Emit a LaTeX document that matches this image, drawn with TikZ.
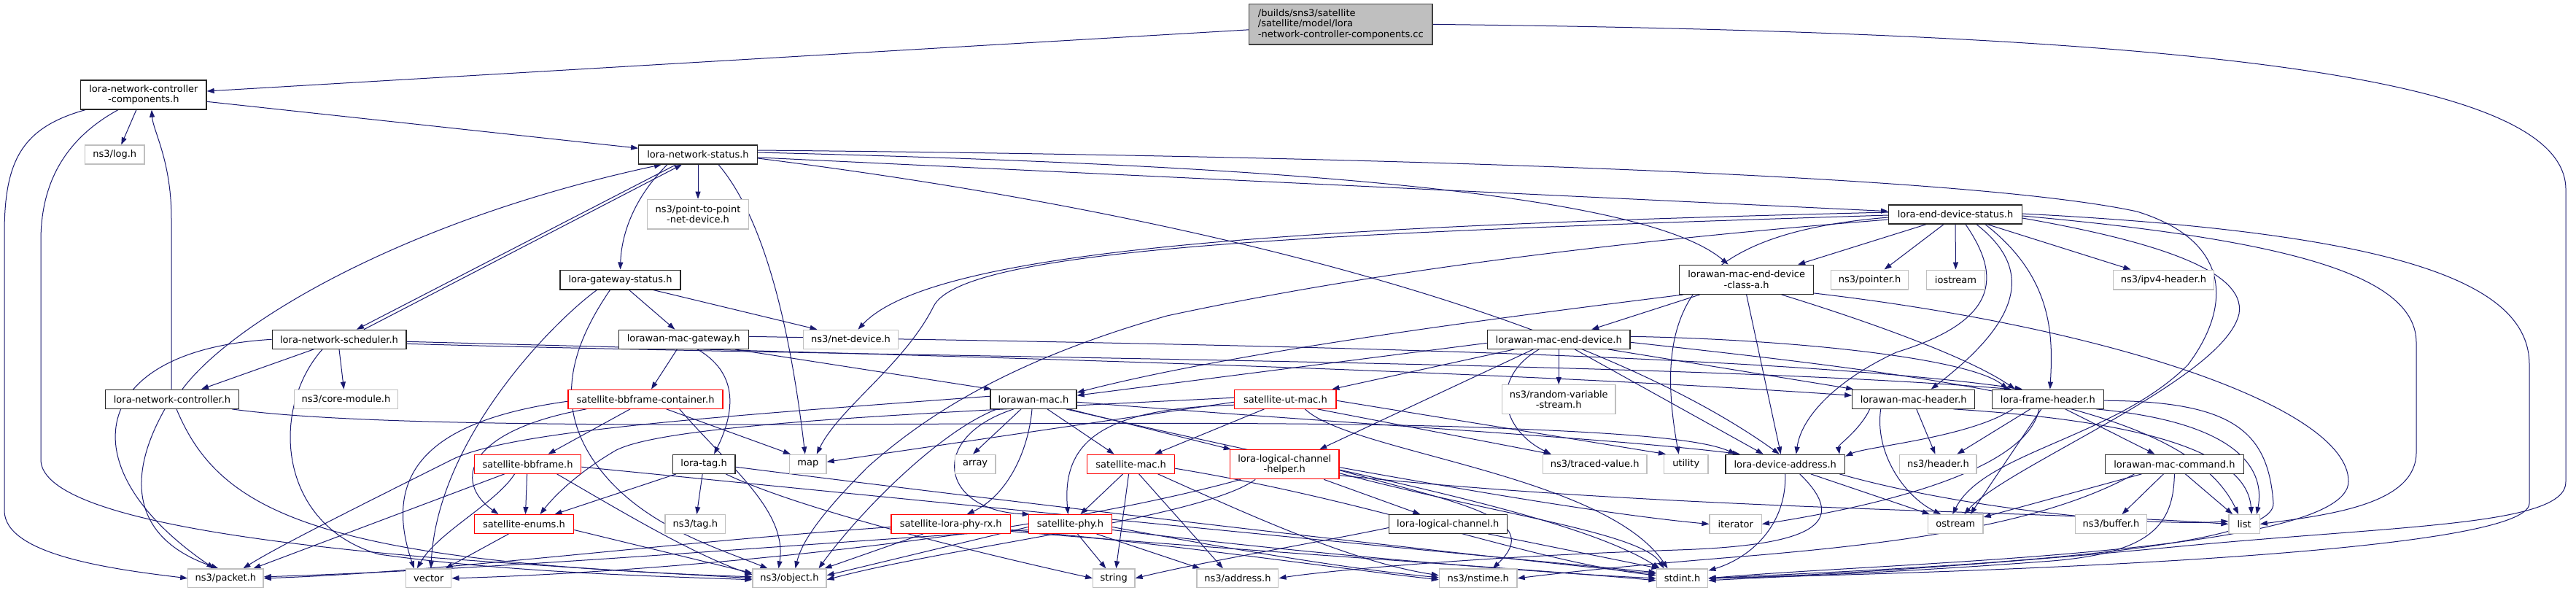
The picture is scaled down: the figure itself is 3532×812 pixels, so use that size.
\documentclass[tikz,border=0pt]{standalone}
\usepackage{fontspec}
\setmainfont{DejaVu Sans}
\usetikzlibrary{arrows.meta}
\pgfdeclarelayer{bg}
\pgfsetlayers{bg,main}
\definecolor{edgec}{HTML}{191970}
\definecolor{grey75}{HTML}{BFBFBF}
\newcommand{\ndfont}{\fontsize{13}{14.5}\selectfont}
\newcommand{\mynode}[7]{\node[#1, minimum width=#5pt, minimum height=#6pt] (#2) at (#3,#4) {#7};}
\tikzset{
 nbox/.style={rectangle, inner sep=0pt, fill=white, align=center, font=\ndfont, line width=1.3pt},
 docbox/.style={nbox, draw=black!85},
 extbox/.style={nbox, draw=grey75},
 trnbox/.style={nbox, draw=red},
 rootbox/.style={nbox, draw=black!75, fill=grey75, align=left},
 conn/.style={draw=edgec, line width=1pt, -{Triangle[length=10pt,width=7pt]}}
}
\begin{document}
\begin{tikzpicture}[x=1pt,y=-1pt]
\useasboundingbox (0,0) rectangle (3532,812);
% ---------------- nodes
\mynode{rootbox}{B}{1838.3}{33.4}{251.4}{55.3}{/builds/sns3/satellite\\/satellite/model/lora\\-network-controller-components.cc}
\mynode{docbox}{lncc}{196.9}{130}{172.2}{40}{lora-network-controller\\-components.h}
\mynode{extbox}{log}{157.3}{212}{81.5}{26}{ns3/log.h}
\mynode{docbox}{lns}{957}{212}{162.5}{26}{lora-network-status.h}
\mynode{extbox}{p2p}{957}{293.7}{139.5}{40.7}{ns3/point-to-point\\-net-device.h}
\mynode{docbox}{lgs}{850.5}{383.5}{165}{26.7}{lora-gateway-status.h}
\mynode{docbox}{leds}{2681}{294}{182.6}{26}{lora-end-device-status.h}
\mynode{docbox}{lmedca}{2394.6}{383.3}{183.6}{40}{lorawan-mac-end-device\\-class-a.h}
\mynode{extbox}{pointer}{2563.6}{383.5}{106}{26.7}{ns3/pointer.h}
\mynode{extbox}{iostream}{2681.5}{383.5}{79.7}{26.7}{iostream}
\mynode{extbox}{ipv4}{2966.5}{383.5}{138.5}{26.7}{ns3/ipv4-header.h}
\mynode{docbox}{lnsch}{465}{465.3}{183.7}{26}{lora-network-scheduler.h}
\mynode{docbox}{lmgw}{937.3}{465.3}{177.8}{26}{lorawan-mac-gateway.h}
\mynode{extbox}{netdev}{1166.5}{465.3}{130.3}{26}{ns3/net-device.h}
\mynode{docbox}{lmed}{2137.2}{465.3}{195.7}{26}{lorawan-mac-end-device.h}
\mynode{docbox}{lnc}{236}{547.2}{182.5}{26}{lora-network-controller.h}
\mynode{extbox}{core}{474.5}{547.2}{141.7}{26}{ns3/core-module.h}
\mynode{trnbox}{sbbc}{885}{547.2}{212}{26}{satellite-bbframe-container.h}
\mynode{docbox}{lmac}{1417}{547.2}{118}{26}{lorawan-mac.h}
\mynode{trnbox}{sutmac}{1762.4}{547.2}{139.3}{26}{satellite-ut-mac.h}
\mynode{extbox}{rvs}{2137.2}{547.5}{155.6}{39.6}{ns3/random-variable\\-stream.h}
\mynode{docbox}{lmh}{2623.7}{547.2}{167.8}{26}{lorawan-mac-header.h}
\mynode{docbox}{lfh}{2807.8}{547.2}{152.8}{26}{lora-frame-header.h}
\mynode{trnbox}{sbb}{723.6}{636.2}{146.4}{26}{satellite-bbframe.h}
\mynode{docbox}{ltag}{965.1}{636.2}{85.6}{26}{lora-tag.h}
\mynode{extbox}{map}{1107.8}{636.2}{50.5}{26}{map}
\mynode{extbox}{array}{1337.1}{636.2}{55.8}{26}{array}
\mynode{trnbox}{smac}{1550.6}{636.2}{120}{26}{satellite-mac.h}
\mynode{trnbox}{llch}{1761.2}{636.7}{149.6}{40}{lora-logical-channel\\-helper.h}
\mynode{extbox}{tv}{2186.6}{636.2}{142.8}{26}{ns3/traced-value.h}
\mynode{extbox}{utility}{2311.7}{636.2}{60.3}{26}{utility}
\mynode{docbox}{lda}{2447.7}{636.2}{163.6}{26}{lora-device-address.h}
\mynode{extbox}{header}{2657.4}{636.2}{105.2}{26}{ns3/header.h}
\mynode{docbox}{lmc}{2981.4}{636.2}{189.6}{26}{lorawan-mac-command.h}
\mynode{trnbox}{senums}{718.5}{718.5}{136.1}{25.6}{satellite-enums.h}
\mynode{extbox}{tag}{953.4}{718.5}{82.7}{25.6}{ns3/tag.h}
\mynode{trnbox}{slprx}{1303.8}{718.5}{163.6}{25.6}{satellite-lora-phy-rx.h}
\mynode{trnbox}{sphy}{1467.4}{718.5}{114.2}{25.6}{satellite-phy.h}
\mynode{docbox}{llc}{1985.3}{718.5}{161.8}{25.6}{lora-logical-channel.h}
\mynode{extbox}{iterator}{2379.7}{718.5}{71.3}{25.6}{iterator}
\mynode{extbox}{ostream}{2681.2}{718.5}{75.6}{25.6}{ostream}
\mynode{extbox}{buffer}{2894.5}{718.5}{98.1}{25.6}{ns3/buffer.h}
\mynode{extbox}{list}{3077.1}{718.5}{42.2}{25.6}{list}
\mynode{extbox}{packet}{309.4}{792.8}{103.3}{25.7}{ns3/packet.h}
\mynode{extbox}{vector}{587.8}{792.8}{62}{25.7}{vector}
\mynode{extbox}{object}{1082.5}{792.8}{101}{25.7}{ns3/object.h}
\mynode{extbox}{string}{1527.3}{792.8}{57.3}{25.7}{string}
\mynode{extbox}{address}{1696.9}{792.8}{111.8}{25.7}{ns3/address.h}
\mynode{extbox}{nstime}{2026.7}{792.8}{106.7}{25.7}{ns3/nstime.h}
\mynode{extbox}{stdint}{2306.5}{792.8}{70.6}{25.7}{stdint.h}
% ---------------- edges
\begin{pgfonlayer}{bg}
\fill[white] (0,0) rectangle (3532,812);
% root
\draw[conn] (B) -- (lncc);
\draw[conn] (B.east) .. controls (3050,45) and (3518,110) .. (3518,260) -- (3518,660) .. controls (3520,720) and (3300,720) .. (3000,748) .. controls (2750,772) and (2500,790) .. (stdint.east);
% lncc
\draw[conn] ([xshift=-10pt]lncc.south) -- ([xshift=9pt]log.north);
\draw[conn] (lncc) -- (lns);
\draw[conn] ([xshift=-80pt]lncc.south) .. controls (30,175) and (6,220) .. (6,320) -- (6,700) .. controls (6,760) and (150,780) .. (packet.west);
\draw[conn] ([xshift=-35pt]lncc.south) .. controls (90,190) and (56,250) .. (56,330) -- (56,630) .. controls (56,700) and (300,740) .. (600,765) .. controls (800,780) and (950,788) .. (object.west);
% lnc
\draw[conn] ([xshift=-1pt]lnc.north) -- (235,300) .. controls (235,220) and (210,180) .. ([xshift=11pt]lncc.south);
\draw[conn] ([xshift=14pt]lnc.north) .. controls (320,440) and (560,300) .. ([xshift=-50pt]lns.south);
\draw[conn] ([xshift=-10pt]lnc.south) .. controls (170,660) and (185,740) .. ([xshift=-10pt]packet.north);
\draw[conn] ([xshift=6pt]lnc.south) .. controls (300,700) and (430,770) .. ([yshift=2pt]object.west);
\draw[conn] ([xshift=-10pt]lnc.south east) .. controls (600,600) and (1500,570) .. (2000,585) .. controls (2200,592) and (2330,600) .. ([xshift=-68pt]lda.north);
% lns
\draw[conn] (lns) -- (p2p);
\draw[conn] ([xshift=-42pt]lns.south) .. controls (870,270) and (852,320) .. (lgs.north);
\draw[conn] ([xshift=-30pt]lns.south) -- ([xshift=24pt]lnsch.north);
\draw[conn] ([xshift=28pt]lns.south) .. controls (1040,290) and (1080,420) .. ([xshift=-4pt]map.north);
\draw[conn] ([yshift=3pt]lns.east) .. controls (1700,225) and (2250,260) .. ([xshift=-25pt]lmedca.north);
\draw[conn] (lns) -- (leds);
\draw[conn] ([yshift=-5pt]lns.east) .. controls (1700,300) and (2200,450) .. ([xshift=-8pt]lda.north);
\draw[conn] ([yshift=6pt]lns.east) .. controls (1900,214) and (2700,240) .. (2930,290) .. controls (3060,330) and (3060,420) .. (3000,500) .. controls (2900,600) and (2720,620) .. ([xshift=-4pt]ostream.north);
% lnsch
\draw[conn] ([xshift=34pt]lnsch.north) -- ([xshift=-22pt]lns.south);
\draw[conn] ([xshift=-35pt]lnsch.south) -- ([xshift=40pt]lnc.north);
\draw[conn] (lnsch.south) -- ([xshift=-3pt]core.north);
\draw[conn] (lnsch.west) .. controls (120,480) and (90,640) .. ([xshift=-16pt]packet.north);
\draw[conn] ([xshift=-23pt]lnsch.south) .. controls (370,560) and (380,720) .. (520,760) .. controls (700,785) and (900,790) .. ([yshift=-2pt]object.west);
\draw[conn] ([yshift=-3pt]lnsch.east) .. controls (1200,485) and (2000,505) .. ([yshift=5pt]lmh.west);
\draw[conn] ([yshift=-6pt]lnsch.east) .. controls (1200,490) and (2300,495) .. ([xshift=-50pt]lfh.north);
% lgs
\draw[conn] ([xshift=12pt]lgs.south) -- ([xshift=-12pt]lmgw.north);
\draw[conn] ([xshift=45pt]lgs.south) -- ([xshift=-46pt]netdev.north);
\draw[conn] ([xshift=-32pt]lgs.south) .. controls (760,440) and (600,600) .. ([xshift=3pt]vector.north);
\draw[conn] ([xshift=-14pt]lgs.south) .. controls (780,480) and (760,560) .. (820,640) .. controls (880,720) and (980,750) .. ([xshift=-30pt]object.north);
% lmgw
\draw[conn] ([xshift=-9pt]lmgw.south) -- ([xshift=8pt]sbbc.north);
\draw[conn] ([xshift=19pt]lmgw.south) .. controls (1010,510) and (1010,560) .. ([xshift=14pt]ltag.north);
\draw[conn] ([xshift=-19pt]lmgw.south east) -- ([xshift=2pt]lmac.north west);
\draw[conn] ([yshift=4pt]lmgw.east) .. controls (1500,470) and (2400,480) .. ([xshift=-35pt]lfh.north);
% leds
\draw[conn] ([xshift=-40pt]leds.south) -- ([xshift=-22pt]lmedca.north east);
\draw[conn] ([xshift=-16pt]leds.south) -- ([xshift=20pt]pointer.north);
\draw[conn] (leds) -- (iostream);
\draw[conn] ([xshift=44pt]leds.south) -- ([xshift=-45pt]ipv4.north);
\draw[conn] ([xshift=29pt]leds.south) .. controls (2790,370) and (2770,440) .. ([xshift=24pt]lmh.north);
\draw[conn] ([xshift=41pt]leds.south) .. controls (2815,380) and (2815,460) .. ([xshift=3pt]lfh.north);
\draw[conn] ([xshift=14pt]leds.south) .. controls (2745,380) and (2740,440) .. (2600,483) .. controls (2520,520) and (2470,570) .. ([xshift=15pt]lda.north);
\draw[conn] ([yshift=-5pt]leds.east) .. controls (2950,330) and (3080,370) .. (3070,430) .. controls (3050,520) and (2750,640) .. ([xshift=12pt]ostream.north);
\draw[conn] ([yshift=-2pt]leds.east) .. controls (3150,330) and (3313,380) .. (3313,470) -- (3313,620) .. controls (3313,690) and (3200,705) .. (list.east);
\draw[conn] ([yshift=1pt]leds.east) .. controls (3300,320) and (3468,390) .. (3468,500) -- (3468,690) .. controls (3468,760) and (2700,785) .. (stdint.east);
\draw[conn] ([yshift=3pt]leds.west) .. controls (1800,310) and (1280,340) .. ([xshift=10pt]netdev.north);
\draw[conn] ([yshift=-1pt]leds.west) .. controls (1800,320) and (1320,340) .. (1280,420) .. controls (1240,500) and (1150,560) .. ([xshift=12pt]map.north);
\draw[conn] ([yshift=-4pt]leds.west) .. controls (2320,320) and (2265,420) .. ([xshift=-10pt]utility.north);
\draw[conn] ([yshift=-7pt]leds.west) .. controls (2100,340) and (1800,390) .. (1600,433) .. controls (1400,490) and (1280,560) .. (1190,640) .. controls (1130,700) and (1100,740) .. ([xshift=8pt]object.north);
% lmedca
\draw[conn] ([xshift=-64pt]lmedca.south) -- ([xshift=45pt]lmed.north);
\draw[conn] ([xshift=6pt]lmedca.south west) .. controls (2100,430) and (1700,480) .. ([yshift=9pt]lmac.east);
\draw[conn] (lmedca.south) -- ([xshift=-6pt]lda.north);
\draw[conn] ([xshift=48pt]lmedca.south) .. controls (2560,440) and (2700,490) .. ([xshift=-45pt]lfh.north);
\draw[conn] ([yshift=2pt]lmedca.south east) .. controls (2900,450) and (3220,560) .. (3220,660) .. controls (3220,760) and (2600,770) .. (stdint.east);
% lmed
\draw[conn] ([yshift=-5pt]lmed.west) -- ([yshift=5pt]lmac.east);
\draw[conn] ([xshift=-61pt]lmed.south) -- ([xshift=64pt]sutmac.north);
\draw[conn] ([xshift=-35pt]lmed.south) -- ([xshift=48pt]llch.north);
\draw[conn] (lmed) -- (rvs);
\draw[conn] ([xshift=-27pt]lmed.south) .. controls (2040,520) and (2060,590) .. ([xshift=-60pt]tv.north);
\draw[conn] ([xshift=22pt]lmed.south) -- ([xshift=-30pt]lda.north);
\draw[conn] ([xshift=68pt]lmed.south) -- ([xshift=2pt]lmh.north west);
\draw[conn] ([yshift=4pt]lmed.east) .. controls (2450,465) and (2700,490) .. ([xshift=-55pt]lfh.north);
\draw[conn] ([yshift=-4pt]lmed.east) .. controls (2700,520) and (3000,560) .. ([xshift=-8pt]list.north);
% sutmac
\draw[conn] ([xshift=-29pt]sutmac.south) -- ([xshift=-28pt]smac.north east);
\draw[conn] ([yshift=-4pt]sutmac.west) -- ([yshift=3pt]map.east);
\draw[conn] ([yshift=2pt]sutmac.west) .. controls (1300,565) and (900,580) .. (840,620) .. controls (790,650) and (760,680) .. ([xshift=22pt]senums.north);
\draw[conn] ([yshift=-8pt]sutmac.west) .. controls (1520,560) and (1455,600) .. ([xshift=-3pt]sphy.north);
\draw[conn] ([xshift=44pt]sutmac.south) -- ([xshift=-60pt]tv.north);
\draw[conn] ([yshift=-2pt]sutmac.east) -- ([xshift=3pt]utility.north west);
\draw[conn] ([xshift=27pt]sutmac.south) .. controls (1850,620) and (2200,650) .. ([xshift=-20pt]stdint.north);
% lmac
\draw[conn] ([xshift=-17pt]lmac.south) -- ([xshift=-3pt]array.north);
\draw[conn] ([xshift=19pt]lmac.south) -- ([xshift=-23pt]smac.north);
\draw[conn] ([xshift=-11pt]lmac.south east) -- ([xshift=2pt]llch.north west);
\draw[conn] ([xshift=-27pt]lmac.south) .. controls (1270,600) and (1290,700) .. ([xshift=2pt]sphy.north west);
\draw[conn] ([xshift=-2pt]lmac.south) .. controls (1410,620) and (1380,680) .. ([xshift=22pt]slprx.north);
\draw[conn] ([xshift=-50pt]lmac.south) .. controls (1290,590) and (1180,700) .. ([xshift=40pt]object.north);
\draw[conn] ([yshift=4pt]lmac.west) .. controls (1000,570) and (700,590) .. (620,630) .. controls (480,700) and (380,750) .. ([xshift=24pt]packet.north);
\draw[conn] ([yshift=-4pt]lmac.east) .. controls (1900,585) and (2200,600) .. ([xshift=-62pt]lda.north);
\draw[conn] ([xshift=-15pt]lmac.south east) .. controls (1800,640) and (2150,700) .. ([xshift=5pt]stdint.north west);
% smac
\draw[conn] ([xshift=-11pt]smac.south) -- ([xshift=14pt]sphy.north);
\draw[conn] ([xshift=-3pt]smac.south) -- ([xshift=3pt]string.north);
\draw[conn] ([xshift=11pt]smac.south) -- ([xshift=-20pt]address.north);
\draw[conn] ([xshift=37pt]smac.south) .. controls (1700,700) and (1850,770) .. ([yshift=4pt]nstime.west);
\draw[conn] ([yshift=-6pt]smac.east) .. controls (1900,690) and (2100,770) .. ([yshift=4pt]stdint.west);
% sphy
\draw[conn] ([yshift=-4pt]sphy.west) -- ([yshift=4pt]object.east);
\draw[conn] ([xshift=10pt]sphy.south) -- ([xshift=-11pt]string.north);
\draw[conn] ([xshift=36pt]sphy.south) -- ([xshift=5pt]address.north west);
\draw[conn] ([yshift=-4pt]sphy.east) .. controls (1700,755) and (1850,780) .. ([yshift=1pt]nstime.west);
\draw[conn] ([yshift=-8pt]sphy.east) .. controls (1800,760) and (2100,785) .. (stdint.west);
\draw[conn] ([yshift=-8pt]sphy.west) .. controls (1100,745) and (700,780) .. ([yshift=2pt]packet.east);
% slprx
\draw[conn] ([xshift=-38pt]slprx.south) -- ([xshift=48pt]object.north);
\draw[conn] ([yshift=-4pt]slprx.west) .. controls (900,745) and (600,785) .. (packet.east);
\draw[conn] ([yshift=-8pt]slprx.east) .. controls (1600,745) and (1800,775) .. ([yshift=-2pt]nstime.west);
\draw[conn] ([yshift=-10pt]slprx.east) .. controls (1700,755) and (2100,780) .. ([yshift=-3pt]stdint.west);
% llch
\draw[conn] ([xshift=54pt]llch.south) -- ([xshift=-38pt]llc.north);
\draw[conn] ([yshift=-8pt]llch.east) .. controls (2000,690) and (2120,710) .. ([xshift=20pt]nstime.north);
\draw[conn] ([yshift=-12pt]llch.east) .. controls (2050,705) and (2250,730) .. ([xshift=-25pt]stdint.north);
\draw[conn] ([xshift=-40pt]llch.south) .. controls (1650,710) and (1300,750) .. ([yshift=-2pt]object.east);
\draw[conn] ([yshift=-4pt]llch.east) .. controls (2000,670) and (2200,705) .. (iterator.west);
\draw[conn] ([yshift=-15pt]llch.east) .. controls (2300,700) and (2800,700) .. (list.west);
\draw[conn] ([xshift=-60pt]llch.south) .. controls (1400,740) and (900,785) .. (vector.east);
% llc
\draw[conn] ([xshift=55pt]llc.south) -- ([xshift=4pt]stdint.north west);
\draw[conn] ([yshift=-5pt]llc.west) .. controls (1800,745) and (1650,770) .. (string.east);
% ltag
\draw[conn] (ltag) -- (tag);
\draw[conn] ([xshift=-38pt]ltag.south) -- ([xshift=42pt]senums.north);
\draw[conn] ([yshift=-4pt]ltag.east) .. controls (1400,690) and (2000,760) .. ([yshift=6pt]stdint.west);
\draw[conn] ([xshift=30pt]ltag.south) .. controls (1100,700) and (1350,760) .. (string.west);
% sbbc
\draw[conn] ([xshift=-21pt]sbbc.south) -- ([xshift=28pt]sbb.north);
\draw[conn] ([xshift=-81pt]sbbc.south) .. controls (640,590) and (620,660) .. ([xshift=-35pt]senums.north);
\draw[conn] ([yshift=-3pt]sbbc.west) .. controls (600,575) and (520,640) .. ([xshift=-20pt]vector.north);
\draw[conn] ([xshift=-78pt]sbbc.south east) -- ([xshift=2pt]map.north west);
\draw[conn] ([xshift=-60pt]sbbc.south east) .. controls (1000,640) and (1080,700) .. ([xshift=-15pt]object.north);
% sbb
\draw[conn] ([xshift=-1pt]sbb.south) -- ([xshift=2pt]senums.north);
\draw[conn] ([xshift=-32pt]sbb.south) -- ([xshift=38pt]packet.north);
\draw[conn] ([xshift=-18pt]sbb.south) .. controls (680,690) and (600,730) .. ([xshift=-16pt]vector.north);
\draw[conn] ([xshift=40pt]sbb.south) .. controls (850,700) and (950,760) .. ([yshift=5pt]object.west);
\draw[conn] ([yshift=-4pt]sbb.east) .. controls (1000,660) and (1800,740) .. ([yshift=8pt]stdint.west);
% senums
\draw[conn] ([xshift=-21pt]senums.south) -- ([xshift=23pt]vector.north);
\draw[conn] ([yshift=-8pt]senums.east) -- ([yshift=7pt]object.west);
% lmh
\draw[conn] ([xshift=4pt]lmh.south) -- ([xshift=-4pt]header.north);
\draw[conn] ([xshift=-45pt]lmh.south) .. controls (2570,620) and (2610,680) .. ([xshift=-20pt]ostream.north);
\draw[conn] ([xshift=-60pt]lmh.south) .. controls (2550,590) and (2520,610) .. ([xshift=-8pt]lda.north east);
\draw[conn] ([xshift=-30pt]lmh.south east) .. controls (2900,575) and (3080,610) .. ([xshift=10pt]list.north);
% lfh
\draw[conn] ([xshift=-48pt]lfh.south) .. controls (2700,600) and (2560,612) .. ([yshift=-3pt]lda.north east);
\draw[conn] ([xshift=-24pt]lfh.south) -- ([xshift=26pt]header.north);
\draw[conn] ([xshift=-9pt]lfh.south) -- ([xshift=-18pt]ostream.north east);
\draw[conn] ([xshift=24pt]lfh.south) -- ([xshift=-27pt]lmc.north);
\draw[conn] ([xshift=-11pt]lfh.south east) .. controls (3080,580) and (3105,650) .. ([xshift=17pt]list.north);
\draw[conn] ([yshift=-2pt]lfh.east) .. controls (3060,550) and (3110,590) .. (3117,690) .. controls (3120,760) and (2600,780) .. (stdint.east);
\draw[conn] ([xshift=-12pt]lfh.south) .. controls (2780,640) and (2600,690) .. (iterator.east);
% lmc
\draw[conn] ([xshift=-45pt]lmc.south) -- ([yshift=-4pt]ostream.north east);
\draw[conn] ([xshift=-15pt]lmc.south) -- ([xshift=15pt]buffer.north);
\draw[conn] ([xshift=15pt]lmc.south) -- ([xshift=-16pt]list.north);
\draw[conn] (lmc.south) .. controls (2980,720) and (2950,760) .. (2800,770) .. controls (2600,785) and (2450,790) .. ([yshift=-3pt]stdint.east);
\draw[conn] ([xshift=-55pt]lmc.south) .. controls (2800,720) and (2600,745) .. (2400,762) .. controls (2200,778) and (2120,788) .. (nstime.east);
% lda
\draw[conn] ([xshift=35pt]lda.south) -- ([xshift=3pt]ostream.north west);
\draw[conn] (lda.south) .. controls (2450,720) and (2400,765) .. ([yshift=-3pt]stdint.north east);
\draw[conn] ([xshift=20pt]lda.south) .. controls (2540,720) and (2480,748) .. (2300,754) .. controls (2000,764) and (1800,785) .. (address.east);
\draw[conn] ([xshift=-8pt]lda.south east) .. controls (2700,700) and (2950,722) .. ([yshift=4pt]list.west);
\end{pgfonlayer}
\end{tikzpicture}
\end{document}
